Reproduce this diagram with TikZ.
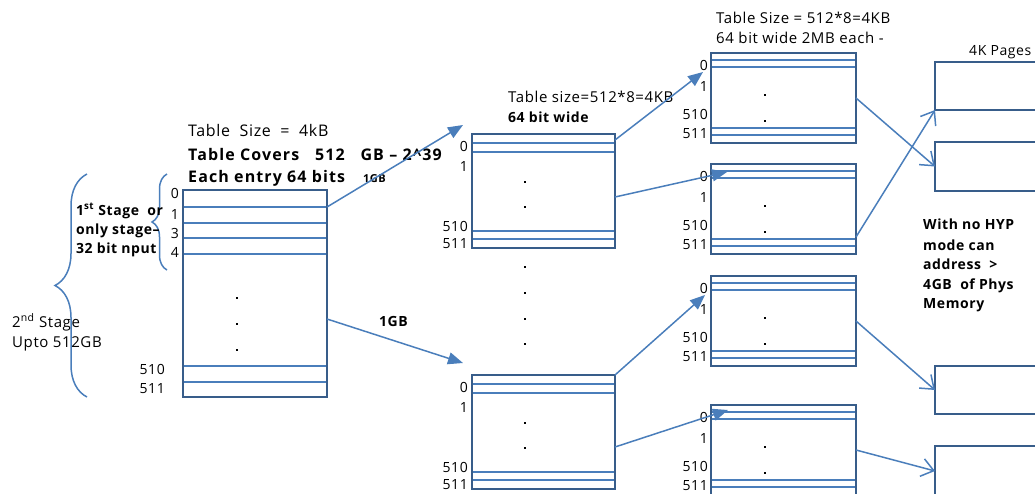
\documentclass[tikz,border=0pt]{standalone}
\usepackage{fontspec}
\setmainfont{Open Sans}[LetterSpace=4]
\usetikzlibrary{arrows.meta,decorations.pathreplacing}
\definecolor{boxblue}{RGB}{56,93,138}
\definecolor{rowblue}{RGB}{74,126,187}

\tikzset{
  tbl/.style={draw=boxblue, line width=2.6pt, rectangle, inner sep=0pt, outer sep=0pt, anchor=north west},
  row/.style={rowblue, line width=2.4pt},
  idx/.style={anchor=east, inner sep=0pt, font=\fontsize{14}{16}\selectfont},
  txt/.style={anchor=base west, inner sep=0pt, font=\fontsize{15}{18}\selectfont},
  btxt/.style={anchor=base west, inner sep=0pt, font=\fontsize{14}{18}\selectfont\bfseries},
  bigtxt/.style={anchor=base west, inner sep=0pt, font=\fontsize{16}{18}\selectfont\bfseries\addfontfeature{LetterSpace=7}},
  ptr/.style={rowblue, line width=1.5pt, -{Triangle[length=15pt,width=12pt]}},
  map/.style={rowblue, line width=1.5pt, -{Straight Barb[length=12pt,width=18pt]}},
  brc/.style={rowblue, line width=1.5pt, decorate, decoration={brace, amplitude=#1}},
}

\begin{document}
\begin{tikzpicture}[x=1pt, y=-1pt]
  \useasboundingbox (0,0) rectangle (1035,493);

  % first level table
  \node[tbl, minimum width=144pt, minimum height=207pt] (t1) at (183,190) {};
  \foreach \r in {207,223,238,254,366,382}
    \draw[row] (184,\r) -- (326,\r);
  \node[idx] (t1-0) at (179,193) {0};
  \node[idx] (t1-1) at (179,214) {1};
  \node[idx] (t1-3) at (179,233) {3};
  \node[idx] (t1-4) at (179,252) {4};
  \node[idx] (t1-510) at (165,369) {510};
  \node[idx] (t1-511) at (165,389) {511};
  \foreach \y in {298,324,350}
    \fill (236,\y-1) rectangle +(2,2);

  \node[txt, font=\fontsize{16}{18}\selectfont] (h1a) at (188,136) {Table~~Size~~=~~4kB};
  \node[bigtxt] (h1b) at (188,160) {Table Covers~~~512~~~GB – 2\textasciicircum{}39};
  \node[bigtxt] (h1c) at (188,182) {Each entry 64 bits};
  \node[btxt, font=\fontsize{11}{13}\selectfont\bfseries] (gb1) at (363,182) {1GB};

  % stages
  \draw[brc=15pt] (167,270) -- (167,174);
  \draw[brc=32pt] (87,397) -- (87,174);
  \node[btxt] (s1) at (76,215) {1\textsuperscript{st} Stage\ \ or};
  \node[btxt] (s2) at (76,234) {only stage–};
  \node[btxt] (s3) at (76,253) {32 bit nput};
  \node[txt] (s4) at (12,327) {2\textsuperscript{nd} Stage};
  \node[txt] (s5) at (12,347) {Upto 512GB};

  % second level tables
  \foreach \tb/\ty in {a/134,b/375} {
    \node[tbl, minimum width=143pt, minimum height=114pt] (t2\tb) at (472,\ty) {};
    \foreach \d in {9,18,97,105}
      \draw[row] (473,\ty+\d) -- (614,\ty+\d);
    \node[idx] (t2\tb-0) at (468,\ty+12) {0};
    \node[idx] (t2\tb-1) at (468,\ty+32) {1};
    \node[idx] (t2\tb-510) at (468,\ty+92) {510};
    \node[idx] (t2\tb-511) at (468,\ty+110) {511};
    \foreach \d in {48,73}
      \fill (524,\ty+\d-1) rectangle +(2,2);
  }
  \foreach \y in {267,293,319,344}
    \fill (524,\y-1) rectangle +(2,2);
  \node[txt] (h2a) at (508,102) {Table size=512*8=4KB};
  \node[btxt] (h2b) at (508,122) {64 bit wide};
  \node[btxt] (gb2) at (379,326) {1GB};

  % third level tables
  \foreach \tb/\ty in {a/53,b/164,c/276,d/405} {
    \node[tbl, minimum width=145pt, minimum height=90pt] (t3\tb) at (711,\ty) {};
    \foreach \d in {7,14,75,82}
      \draw[row] (712,\ty+\d) -- (855,\ty+\d);
    \node[idx] (t3\tb-0) at (708,\ty+12.5) {0};
    \node[idx] (t3\tb-1) at (708,\ty+33) {1};
    \node[idx] (t3\tb-510) at (708,\ty+61) {510};
    \node[idx] (t3\tb-511) at (708,\ty+81) {511};
    \foreach \d in {42,68}
      \fill (764,\ty+\d-1) rectangle +(2,2);
  }
  \node[txt] (h3a) at (716,23) {Table Size = 512*8=4KB};
  \node[txt] (h3b) at (716,43) {64 bit wide 2MB each -};

  % pages
  \node[tbl, minimum width=110pt, minimum height=48pt] (p1) at (935,62) {};
  \node[tbl, minimum width=110pt, minimum height=49pt] (p2) at (935,142) {};
  \node[tbl, minimum width=110pt, minimum height=48pt] (p3) at (935,366) {};
  \node[tbl, minimum width=110pt, minimum height=50pt] (p4) at (935,446) {};
  \node[txt, font=\fontsize{14}{16}\selectfont] (pg) at (969,55) {4K Pages};
  \node[btxt] (n1) at (923,229) {With no HYP};
  \node[btxt] (n2) at (923,250) {mode can};
  \node[btxt] (n3) at (923,269) {address\ \ >};
  \node[btxt] (n4) at (923,289) {4GB\ \ of Phys};
  \node[btxt] (n5) at (923,308) {Memory};

  % pointers
  \draw[ptr] ([yshift=-17pt]t1.north east) -- ([xshift=-9pt,yshift=9pt]t2a.north west);
  \draw[ptr] ([yshift=-129pt]t1.north east) -- ([xshift=-9pt,yshift=12pt]t2b.north west);
  \draw[ptr] ([yshift=-6pt]t2a.north east) -- ([xshift=-8pt,yshift=-19pt]t3a.north west);
  \draw[ptr] ([yshift=-63pt]t2a.north east) -- ([xshift=16pt,yshift=-8pt]t3b.north west);
  \draw[ptr] (t2b.north east) -- ([xshift=-6pt,yshift=-19pt]t3c.north west);
  \draw[ptr] ([yshift=-72pt]t2b.north east) -- ([xshift=17pt,yshift=-5pt]t3d.north west);
  \draw[map] (t3a.east) -- (p2.west);
  \draw[map] ([yshift=-73pt]t3b.north east) -- (p1.south west);
  \draw[map] (t3c.east) -- (p3.west);
  \draw[map] (t3d.east) -- (p4.west);
\end{tikzpicture}
\end{document}
